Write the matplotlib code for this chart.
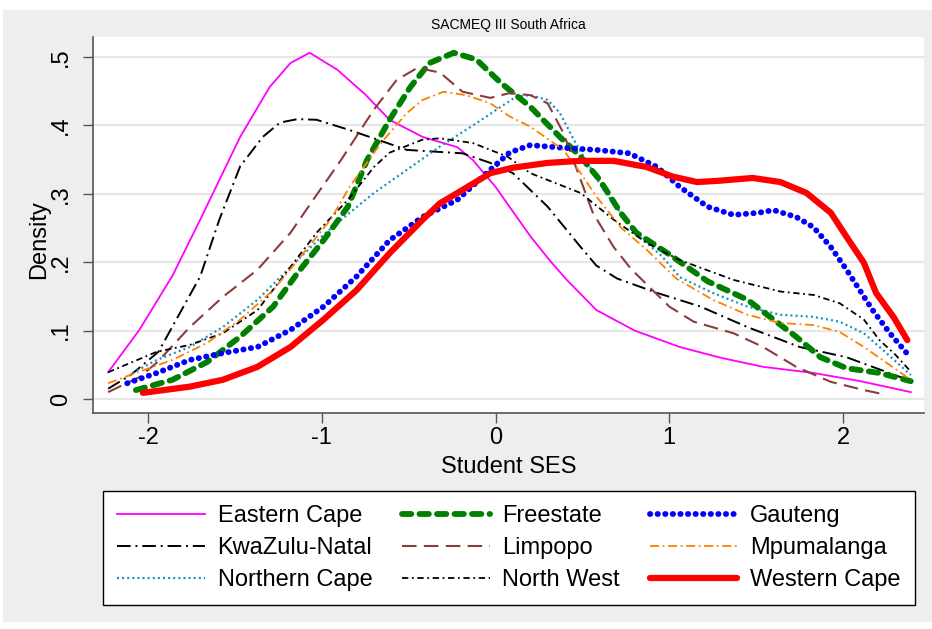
import matplotlib
matplotlib.use("Agg")
import matplotlib.pyplot as plt
from matplotlib.patches import Rectangle

plt.rcParams['font.family'] = ['Liberation Sans', 'DejaVu Sans']

# kernel density of student SES by province
ec_x = [-2.23, -2.05, -1.86, -1.70, -1.47, -1.30, -1.18, -1.07, -0.91, -0.75, -0.61, -0.42, -0.22, -0.13, 0.0, 0.08, 0.20, 0.31, 0.41, 0.58, 0.80, 1.06, 1.30, 1.54, 1.83, 2.10, 2.39]
ec_y = [0.039, 0.101, 0.180, 0.262, 0.383, 0.456, 0.491, 0.506, 0.481, 0.445, 0.408, 0.383, 0.368, 0.349, 0.310, 0.281, 0.238, 0.203, 0.174, 0.130, 0.100, 0.076, 0.060, 0.047, 0.038, 0.026, 0.010]

fs_x = [-2.07, -1.86, -1.66, -1.47, -1.28, -1.14, -0.99, -0.85, -0.74, -0.61, -0.49, -0.38, -0.24, -0.11, 0.03, 0.20, 0.37, 0.49, 0.60, 0.72, 0.81, 0.99, 1.22, 1.45, 1.60, 1.73, 1.87, 2.02, 2.21, 2.39]
fs_y = [0.013, 0.028, 0.054, 0.091, 0.135, 0.184, 0.232, 0.281, 0.349, 0.408, 0.456, 0.491, 0.506, 0.496, 0.462, 0.427, 0.383, 0.354, 0.320, 0.272, 0.243, 0.213, 0.172, 0.145, 0.116, 0.091, 0.061, 0.045, 0.038, 0.026]

gp_x = [-2.12, -1.95, -1.76, -1.57, -1.37, -1.18, -0.99, -0.80, -0.61, -0.42, -0.22, -0.03, 0.08, 0.20, 0.39, 0.58, 0.77, 0.93, 1.06, 1.22, 1.37, 1.51, 1.60, 1.73, 1.83, 1.93, 2.02, 2.17, 2.27, 2.39]
gp_y = [0.023, 0.038, 0.057, 0.067, 0.076, 0.101, 0.135, 0.179, 0.232, 0.266, 0.291, 0.335, 0.360, 0.371, 0.367, 0.364, 0.359, 0.339, 0.310, 0.281, 0.269, 0.272, 0.276, 0.266, 0.251, 0.222, 0.189, 0.130, 0.096, 0.060]

kzn_x = [-2.23, -2.10, -1.94, -1.84, -1.70, -1.59, -1.47, -1.34, -1.24, -1.14, -1.03, -0.84, -0.68, -0.51, -0.32, -0.19, -0.03, 0.10, 0.30, 0.49, 0.58, 0.70, 0.93, 1.18, 1.45, 1.75, 2.02, 2.33, 2.39]
kzn_y = [0.015, 0.035, 0.069, 0.115, 0.179, 0.262, 0.340, 0.383, 0.404, 0.409, 0.408, 0.393, 0.379, 0.364, 0.361, 0.359, 0.345, 0.330, 0.281, 0.222, 0.195, 0.176, 0.155, 0.135, 0.105, 0.076, 0.061, 0.032, 0.028]

lp_x = [-2.23, -2.05, -1.95, -1.76, -1.57, -1.37, -1.18, -1.05, -0.89, -0.70, -0.57, -0.45, -0.32, -0.19, -0.03, 0.08, 0.20, 0.30, 0.39, 0.49, 0.56, 0.68, 0.78, 0.88, 1.00, 1.14, 1.37, 1.54, 1.73, 1.93, 2.12, 2.25]
lp_y = [0.010, 0.032, 0.053, 0.105, 0.149, 0.189, 0.243, 0.291, 0.349, 0.423, 0.466, 0.484, 0.477, 0.449, 0.440, 0.447, 0.444, 0.432, 0.389, 0.320, 0.272, 0.222, 0.190, 0.165, 0.135, 0.113, 0.096, 0.076, 0.047, 0.025, 0.013, 0.006]

mp_x = [-2.23, -2.05, -1.86, -1.66, -1.47, -1.28, -1.09, -0.95, -0.84, -0.66, -0.51, -0.42, -0.30, -0.17, -0.03, 0.08, 0.20, 0.39, 0.49, 0.58, 0.72, 0.87, 1.04, 1.25, 1.45, 1.64, 1.83, 1.98, 2.12, 2.25, 2.39]
mp_y = [0.023, 0.040, 0.057, 0.082, 0.116, 0.159, 0.218, 0.262, 0.310, 0.374, 0.418, 0.437, 0.449, 0.444, 0.432, 0.413, 0.398, 0.364, 0.330, 0.296, 0.251, 0.218, 0.176, 0.145, 0.123, 0.111, 0.108, 0.098, 0.076, 0.053, 0.028]

nc_x = [-2.09, -1.95, -1.76, -1.57, -1.37, -1.18, -0.99, -0.85, -0.70, -0.51, -0.32, -0.11, 0.03, 0.12, 0.20, 0.30, 0.37, 0.45, 0.53, 0.62, 0.72, 0.83, 0.96, 1.06, 1.25, 1.45, 1.64, 1.83, 1.98, 2.12, 2.25, 2.39]
nc_y = [0.038, 0.057, 0.076, 0.105, 0.145, 0.193, 0.240, 0.270, 0.301, 0.335, 0.369, 0.403, 0.427, 0.442, 0.444, 0.437, 0.418, 0.379, 0.345, 0.306, 0.272, 0.237, 0.208, 0.178, 0.155, 0.135, 0.123, 0.120, 0.113, 0.096, 0.067, 0.035]

nw_x = [-2.23, -1.95, -1.76, -1.57, -1.37, -1.18, -1.03, -0.85, -0.70, -0.61, -0.42, -0.32, -0.13, 0.07, 0.20, 0.49, 0.68, 0.87, 1.06, 1.37, 1.64, 1.83, 1.98, 2.12, 2.21, 2.30, 2.39]
nw_y = [0.039, 0.069, 0.079, 0.096, 0.130, 0.193, 0.243, 0.291, 0.339, 0.360, 0.379, 0.381, 0.374, 0.354, 0.330, 0.301, 0.262, 0.228, 0.203, 0.174, 0.157, 0.152, 0.140, 0.116, 0.086, 0.065, 0.040]

wc_x = [-2.03, -1.76, -1.57, -1.37, -1.18, -0.99, -0.80, -0.61, -0.42, -0.32, -0.22, -0.03, 0.10, 0.30, 0.49, 0.68, 0.87, 1.02, 1.16, 1.29, 1.48, 1.64, 1.79, 1.93, 2.02, 2.12, 2.19, 2.29, 2.37]
wc_y = [0.009, 0.018, 0.028, 0.047, 0.076, 0.116, 0.159, 0.213, 0.262, 0.286, 0.301, 0.330, 0.338, 0.345, 0.348, 0.348, 0.339, 0.325, 0.317, 0.319, 0.323, 0.317, 0.301, 0.272, 0.237, 0.199, 0.155, 0.120, 0.086]

x_ticks = [-2, -1, 0, 1, 2]
y_ticks = [0, 0.1, 0.2, 0.3, 0.4, 0.5]
y_tick_labels = ['0', '.1', '.2', '.3', '.4', '.5']

fig = plt.figure(figsize=(9.32, 6.29), dpi=100, facecolor='white')
fig.patches.append(Rectangle((3 / 932, 7 / 629), 929 / 932, 612 / 629,
                             transform=fig.transFigure, facecolor='#eeeeee',
                             edgecolor='none', zorder=-1))

ax = fig.add_axes([93 / 932, 216 / 629, 831 / 932, 376 / 629])
ax.set_facecolor('white')

lines = {}
lines['Eastern Cape'] = ax.plot(ec_x, ec_y, color='#ff00ff', lw=1.3)[0]
lines['KwaZulu-Natal'] = ax.plot(kzn_x, kzn_y, color='black', lw=1.4, dashes=(7, 2.5, 1, 2.5))[0]
lines['Northern Cape'] = ax.plot(nc_x, nc_y, color='#1593c4', lw=1.6, dashes=(0.9, 1.4))[0]
lines['Freestate'] = ax.plot(fs_x, fs_y, color='#008000', lw=4.2, dashes=(1.6, 1.4),
                             dash_capstyle='round')[0]
lines['Limpopo'] = ax.plot(lp_x, lp_y, color='#8b3c3c', lw=1.5, dashes=(7, 3.5))[0]
lines['North West'] = ax.plot(nw_x, nw_y, color='black', lw=1.3, dashes=(3.5, 2, 1, 2))[0]
lines['Gauteng'] = ax.plot(gp_x, gp_y, color='#0000ff', lw=4.2, dashes=(0.05, 1.25),
                           dash_capstyle='round')[0]
lines['Mpumalanga'] = ax.plot(mp_x, mp_y, color='#ff8000', lw=1.3, dashes=(5, 2, 1, 2))[0]
lines['Western Cape'] = ax.plot(wc_x, wc_y, color='#ff0000', lw=4.5, solid_capstyle='round')[0]

ax.set_xlim(-2.317, 2.466)
ax.set_ylim(-0.0205, 0.529)
ax.set_xticks(x_ticks)
ax.set_xticklabels([str(t) for t in x_ticks])
ax.set_yticks(y_ticks)
ax.set_yticklabels(y_tick_labels, rotation=90, va='center')
ax.tick_params(direction='out', length=7, width=1, color='#555555', labelsize=17)
ax.tick_params(axis='y', pad=8)
ax.tick_params(axis='x', pad=3)
ax.grid(axis='y', color='#e6e6e6', lw=1.6)
ax.set_axisbelow(True)
for side in ['top', 'right']:
    ax.spines[side].set_visible(False)
for side in ['left', 'bottom']:
    ax.spines[side].set_color('#555555')
    ax.spines[side].set_linewidth(1.2)

ax.set_xlabel('Student SES', fontsize=17, labelpad=5)
ax.set_ylabel('Density', fontsize=17)
ax.yaxis.set_label_coords(-0.052, 0.46)

fig.text(508 / 932, 1 - 25 / 629, 'SACMEQ III South Africa', ha='center', va='center', fontsize=10)

order = ['Eastern Cape', 'KwaZulu-Natal', 'Northern Cape',
         'Freestate', 'Limpopo', 'North West',
         'Gauteng', 'Mpumalanga', 'Western Cape']
leg = fig.legend([lines[k] for k in order], order, loc='center',
                 bbox_to_anchor=(103 / 932, 24 / 629, 812 / 932, 114 / 629),
                 mode='expand', ncol=3, fontsize=17, fancybox=False,
                 edgecolor='black', framealpha=1, handlelength=3.7,
                 handletextpad=0.55, labelspacing=0.42, borderpad=0.6,
                 borderaxespad=0)
leg.get_frame().set_linewidth(1.0)

fig.savefig('out.png', dpi=100, facecolor=fig.get_facecolor())
